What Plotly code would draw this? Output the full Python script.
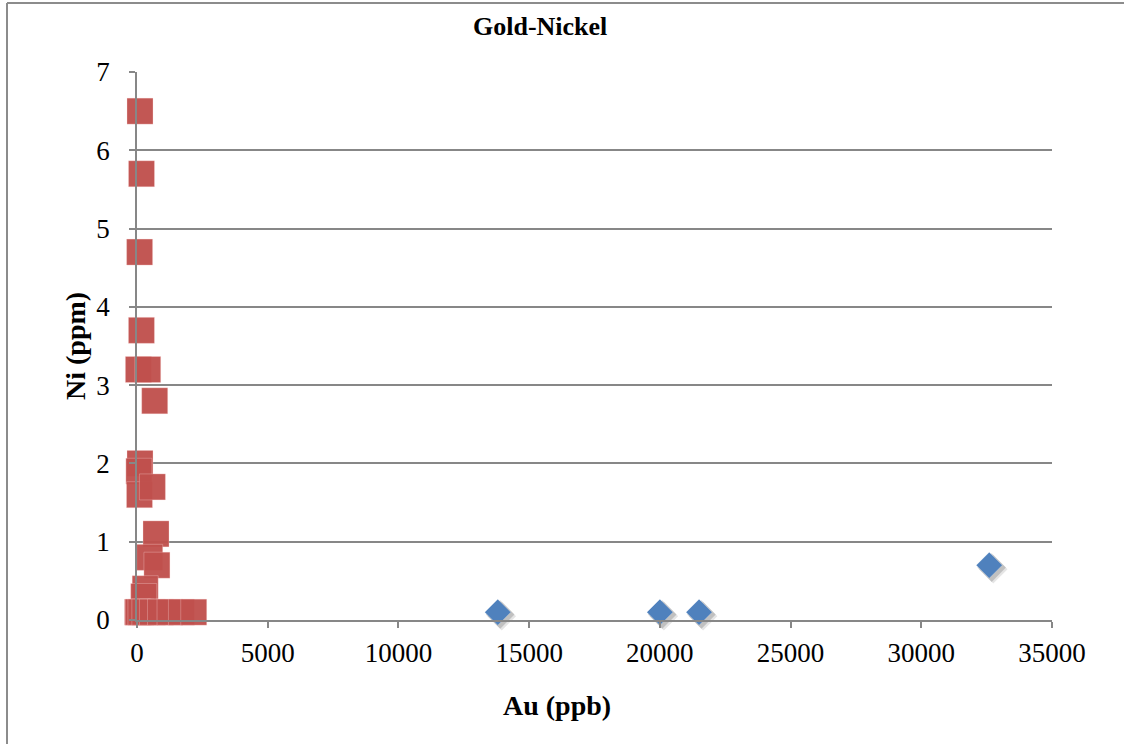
import plotly.graph_objects as go

# Gold (ppb) vs Nickel (ppm) assay results
au_high = [13800, 20000, 21500, 32600]
ni_high = [0.1, 0.1, 0.1, 0.7]

au_low = [115, 172, 100, 170, 53, 410, 677, 115, 72, 95, 590, 727, 486, 762,
          314, 257, 20, 53, 150, 300, 590, 900, 1263, 1700, 2170]
ni_low = [6.5, 5.7, 4.7, 3.7, 3.2, 3.2, 2.8, 2.0, 1.9, 1.6, 1.7, 1.1, 0.8, 0.7,
          0.4, 0.3, 0.1, 0.1, 0.1, 0.1, 0.1, 0.1, 0.1, 0.1, 0.1]

x_ticks = [0, 5000, 10000, 15000, 20000, 25000, 30000, 35000]
y_ticks = [0, 1, 2, 3, 4, 5, 6, 7]

W, H = 1131, 744
L, R, T, B = 137, 79, 72, 124
X_MAX, Y_MAX = 35000, 7

# drop-shadow offset for the diamond markers, in data units (~4 px down-right)
px_x = X_MAX / (W - L - R)
px_y = Y_MAX / (H - T - B)
sh_dx, sh_dy = 4 * px_x, -4 * px_y

serif = "Liberation Serif, DejaVu Serif, serif"
axis_grey = "#878787"

fig = go.Figure()

for k, op in ((1.0, 0.10), (0.6, 0.16)):
    fig.add_trace(go.Scatter(
        x=[a + sh_dx * k for a in au_high],
        y=[n + sh_dy * k for n in ni_high],
        mode="markers", cliponaxis=False, hoverinfo="skip", showlegend=False,
        marker=dict(symbol="diamond", size=22, color=f"rgba(0,0,0,{op})",
                    line=dict(width=0)),
    ))

fig.add_trace(go.Scatter(
    x=au_high, y=ni_high, mode="markers", cliponaxis=False, showlegend=False,
    marker=dict(symbol="diamond", size=20, color="#4F81BD",
                line=dict(width=0.5, color="rgba(255,255,255,0.4)")),
))

fig.add_trace(go.Scatter(
    x=au_low, y=ni_low, mode="markers", cliponaxis=False, showlegend=False,
    marker=dict(symbol="square", size=26, color="rgba(192,80,77,0.96)",
                line=dict(width=0.6, color="rgba(255,220,220,0.5)")),
))

fig.update_xaxes(
    range=[0, X_MAX], tickvals=x_ticks, ticktext=[str(v) for v in x_ticks],
    showgrid=False, zeroline=False, showline=True, linecolor=axis_grey,
    linewidth=1.5, ticks="outside", ticklen=6, tickwidth=1.5,
    tickcolor=axis_grey, tickfont=dict(family=serif, size=27, color="#000"),
    ticklabelstandoff=2,
)
fig.update_yaxes(
    range=[0, Y_MAX], tickvals=y_ticks, ticktext=[str(v) for v in y_ticks],
    showgrid=True, gridcolor=axis_grey, gridwidth=1.5, zeroline=False,
    showline=True, linecolor=axis_grey, linewidth=1.5, ticks="outside",
    ticklen=6, tickwidth=1.5, tickcolor=axis_grey,
    tickfont=dict(family=serif, size=27, color="#000"), ticklabelstandoff=14,
)

fig.update_layout(
    width=W, height=H,
    margin=dict(l=L, r=R, t=T, b=B, autoexpand=False),
    paper_bgcolor="white", plot_bgcolor="white",
    annotations=[
        dict(text="<b>Gold-Nickel</b>", xref="paper", yref="paper",
             x=(540 - L) / (W - L - R), y=1 + (T - 27) / (H - T - B),
             showarrow=False, font=dict(family=serif, size=26, color="#000"),
             xanchor="center", yanchor="middle"),
        dict(text="<b>Au (ppb)</b>", xref="paper", yref="paper",
             x=(557 - L) / (W - L - R), y=-(705 - (H - B)) / (H - T - B),
             showarrow=False, font=dict(family=serif, size=28, color="#000"),
             xanchor="center", yanchor="middle"),
        dict(text="<b>Ni (ppm)</b>", xref="paper", yref="paper",
             x=-(L - 75) / (W - L - R), y=(H - B - 346) / (H - T - B),
             showarrow=False, textangle=-90,
             font=dict(family=serif, size=28, color="#000"),
             xanchor="center", yanchor="middle"),
    ],
    shapes=[
        dict(type="line", xref="paper", yref="paper",
             x0=-(L - 7) / (W - L - R), x1=-(L - 7) / (W - L - R),
             y0=1 + (T - 3) / (H - T - B), y1=-(B + 5) / (H - T - B),
             line=dict(color="#8c8c8c", width=2)),
        dict(type="line", xref="paper", yref="paper",
             x0=-(L - 7) / (W - L - R), x1=1 + (R - 7) / (W - L - R),
             y0=1 + (T - 3) / (H - T - B), y1=1 + (T - 3) / (H - T - B),
             line=dict(color="#8c8c8c", width=2)),
    ],
)

fig.write_html("out.html")
